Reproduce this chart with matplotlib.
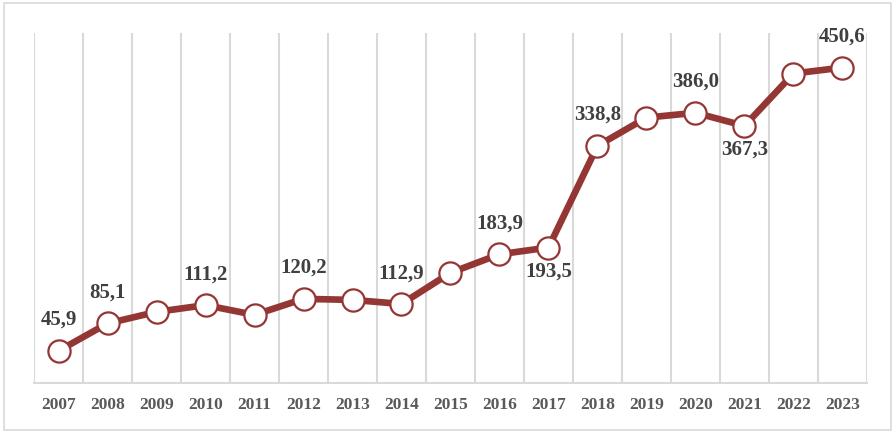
import numpy as np
import matplotlib.pyplot as plt
from matplotlib.patches import Rectangle

years = ['2007', '2008', '2009', '2010', '2011', '2012', '2013', '2014', '2015',
         '2016', '2017', '2018', '2019', '2020', '2021', '2022', '2023']
values = [45.9, 85.1, 101.6, 111.2, 97.3, 120.2, 118.7, 112.9, 157.4,
          183.9, 193.5, 338.8, 379.1, 386.0, 367.3, 442.1, 450.6]
# which points carry a label, and where: 1 above, -1 below, 0 none
label_pos = [1, 1, 0, 1, 0, 1, 0, 1, 0, 1, -1, 1, 0, 1, -1, 0, 1]

line_color = '#943634'
text_color = '#404040'

fig = plt.figure(figsize=(8.95, 4.33), dpi=100)
ax = fig.add_axes([0.038, 0.1155, 0.9307, 0.8083])

x = np.arange(len(years))
ax.plot(x, values, color=line_color, lw=4.8, solid_joinstyle='round', zorder=3)
ax.plot(x, values, 'o', ms=16, mfc='white', mec=line_color, mew=1.6, zorder=4)

for xi, v, pos in zip(x, values, label_pos):
    if pos == 0:
        continue
    txt = f'{v:.1f}'.replace('.', ',')
    if pos > 0:
        ax.annotate(txt, (xi, v), xytext=(0, 15), textcoords='offset points',
                    ha='center', va='bottom', fontsize=15, fontweight='bold',
                    family='Liberation Serif', color=text_color)
    else:
        ax.annotate(txt, (xi, v), xytext=(0, -10), textcoords='offset points',
                    ha='center', va='top', fontsize=15, fontweight='bold',
                    family='Liberation Serif', color=text_color)

ax.set_xlim(-0.5, len(years) - 0.5)
ax.set_ylim(0, 500)
for b in np.arange(-0.5, len(years), 1.0):
    ax.axvline(b, color='#d9d9d9', lw=1.5, zorder=1)

ax.set_xticks(x)
ax.set_xticklabels(years, fontsize=12.5, fontweight='bold',
                   family='Liberation Serif', color='#595959')
ax.tick_params(axis='x', length=0, pad=10)
ax.set_yticks([])
for side in ['top', 'right', 'left']:
    ax.spines[side].set_visible(False)
ax.spines['bottom'].set_color('#d9d9d9')
ax.spines['bottom'].set_linewidth(1.5)

fig.patches.append(Rectangle((0.005, 0.007), 0.99, 0.986, transform=fig.transFigure,
                             fill=False, edgecolor='#d9d9d9', lw=1.2))

fig.savefig('out.png', dpi=100)
